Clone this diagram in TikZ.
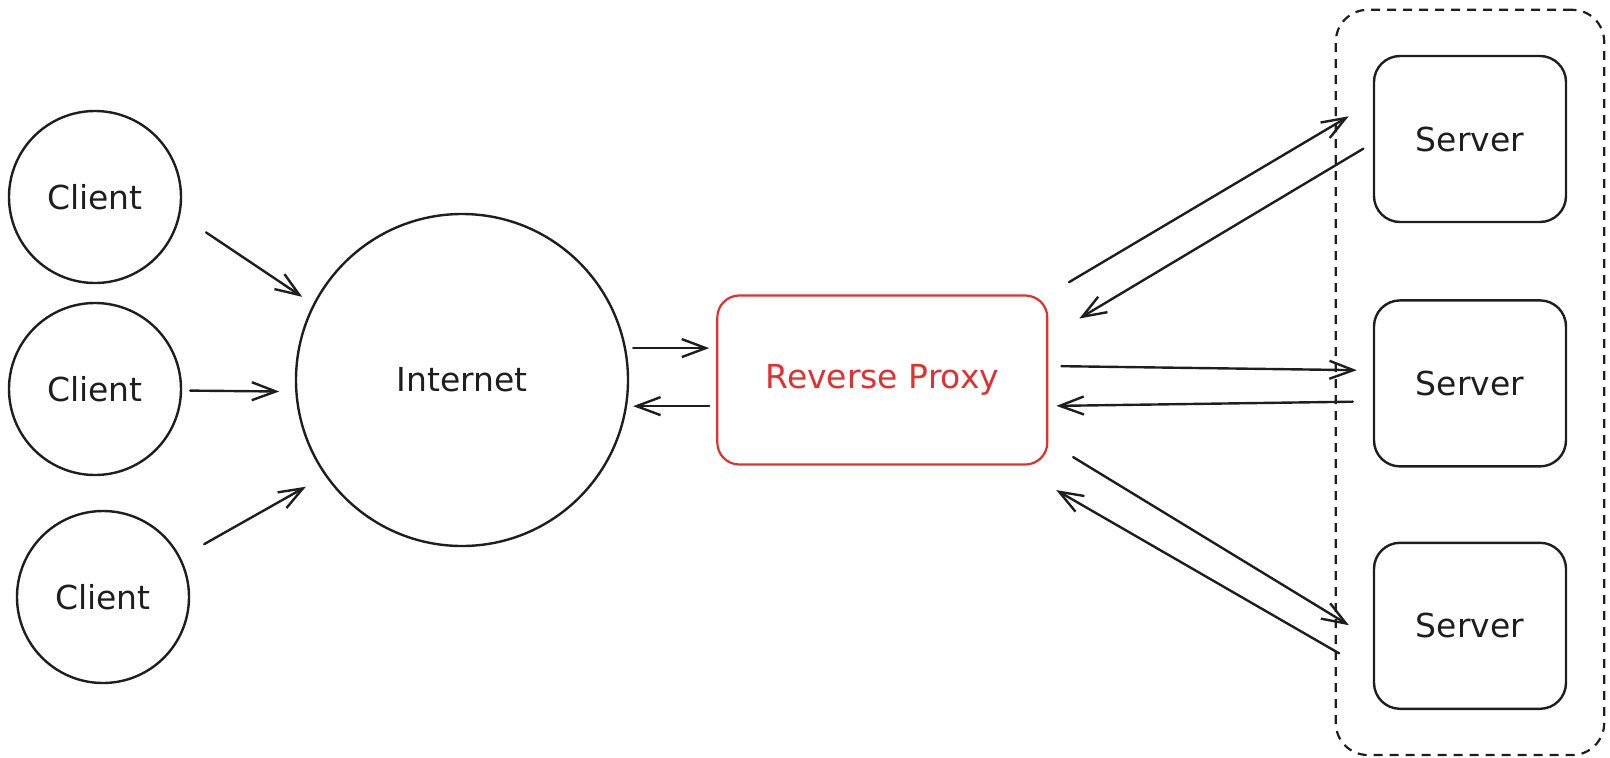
\documentclass[tikz,border=0pt]{standalone}
\usepackage{fontspec}
\setmainfont{DejaVu Sans}
\usepackage{xcolor}
\usetikzlibrary{positioning,arrows.meta,fit}
\definecolor{ink}{HTML}{1E1E1E}
\definecolor{proxyred}{HTML}{E03131}

\begin{document}
\begin{tikzpicture}[
  x=1pt, y=-1pt,
  font=\fontsize{33}{40}\selectfont, text=ink,
  client/.style={draw=ink, circle, line width=2.4pt, minimum size=172pt, inner sep=0pt},
  cloud/.style={client, minimum size=332pt},
  proxybox/.style={draw=proxyred, text=proxyred, rounded corners=22pt, line width=2.2pt, minimum width=330pt, minimum height=169pt},
  srv/.style={draw=ink, rounded corners=26pt, line width=2.4pt, minimum width=192pt, minimum height=166pt},
  pool/.style={draw=ink, dash pattern=on 9pt off 7pt, rounded corners=32pt, line width=2.2pt, inner xsep=37pt, inner ysep=45pt},
  arr/.style={-{Straight Barb[length=24pt, width=18pt]}, draw=ink, line width=2.4pt, line cap=round}
]
\useasboundingbox (0,0) rectangle (1610,758);
\node[client] (client1) at (95,197) {Client};
\node[client] (client2) at (95,389) {Client};
\node[client] (client3) at (103,597) {Client};
\node[cloud] (internet) at (462,380) {Internet};
\node[proxybox, right=87pt of internet] (proxy) {Reverse Proxy};
\node[srv] (server1) at (1470,139) {Server};
\node[srv, below=76pt of server1] (server2) {Server};
\node[srv, below=74pt of server2] (server3) {Server};
\node[pool, fit=(server1)(server2)(server3)] (pool) {};
% clients to internet
\draw[arr, shorten <=31pt, shorten >=13pt] (client1.-12) -- (internet.153);
\draw[arr, shorten <=8pt, shorten >=16pt] (client2.-1) -- (internet.184);
\draw[arr, shorten <=27pt, shorten >=22pt] (client3.27) -- (internet.215);
% internet and proxy
\draw[arr, shorten <=7pt, shorten >=7pt] (internet.11) -- (internet.11 -| proxy.west);
\draw[arr, shorten <=7pt, shorten >=6pt] (internet.-9 -| proxy.west) -- (internet.-9);
% proxy and servers
\draw[arr, shorten <=24pt, shorten >=28pt] (proxy.north east) -- ([yshift=37pt]server1.west);
\draw[arr, shorten <=11pt, shorten >=36pt] ([yshift=-4pt]server1.west) -- ([yshift=43pt]proxy.east);
\draw[arr, shorten <=13pt, shorten >=16pt] ([yshift=14pt]proxy.east) -- ([yshift=13pt]server2.west);
\draw[arr, shorten <=20pt, shorten >=8pt] ([yshift=-18pt]server2.west) -- ([yshift=-26pt]proxy.east);
\draw[arr, shorten <=29pt, shorten >=28pt] ([yshift=-62pt]proxy.east) -- ([yshift=-14pt]server3.west);
\draw[arr, shorten <=39pt, shorten >=9pt] ([yshift=-47pt]server3.west) -- ([yshift=-20pt]proxy.south east);
\end{tikzpicture}
\end{document}
